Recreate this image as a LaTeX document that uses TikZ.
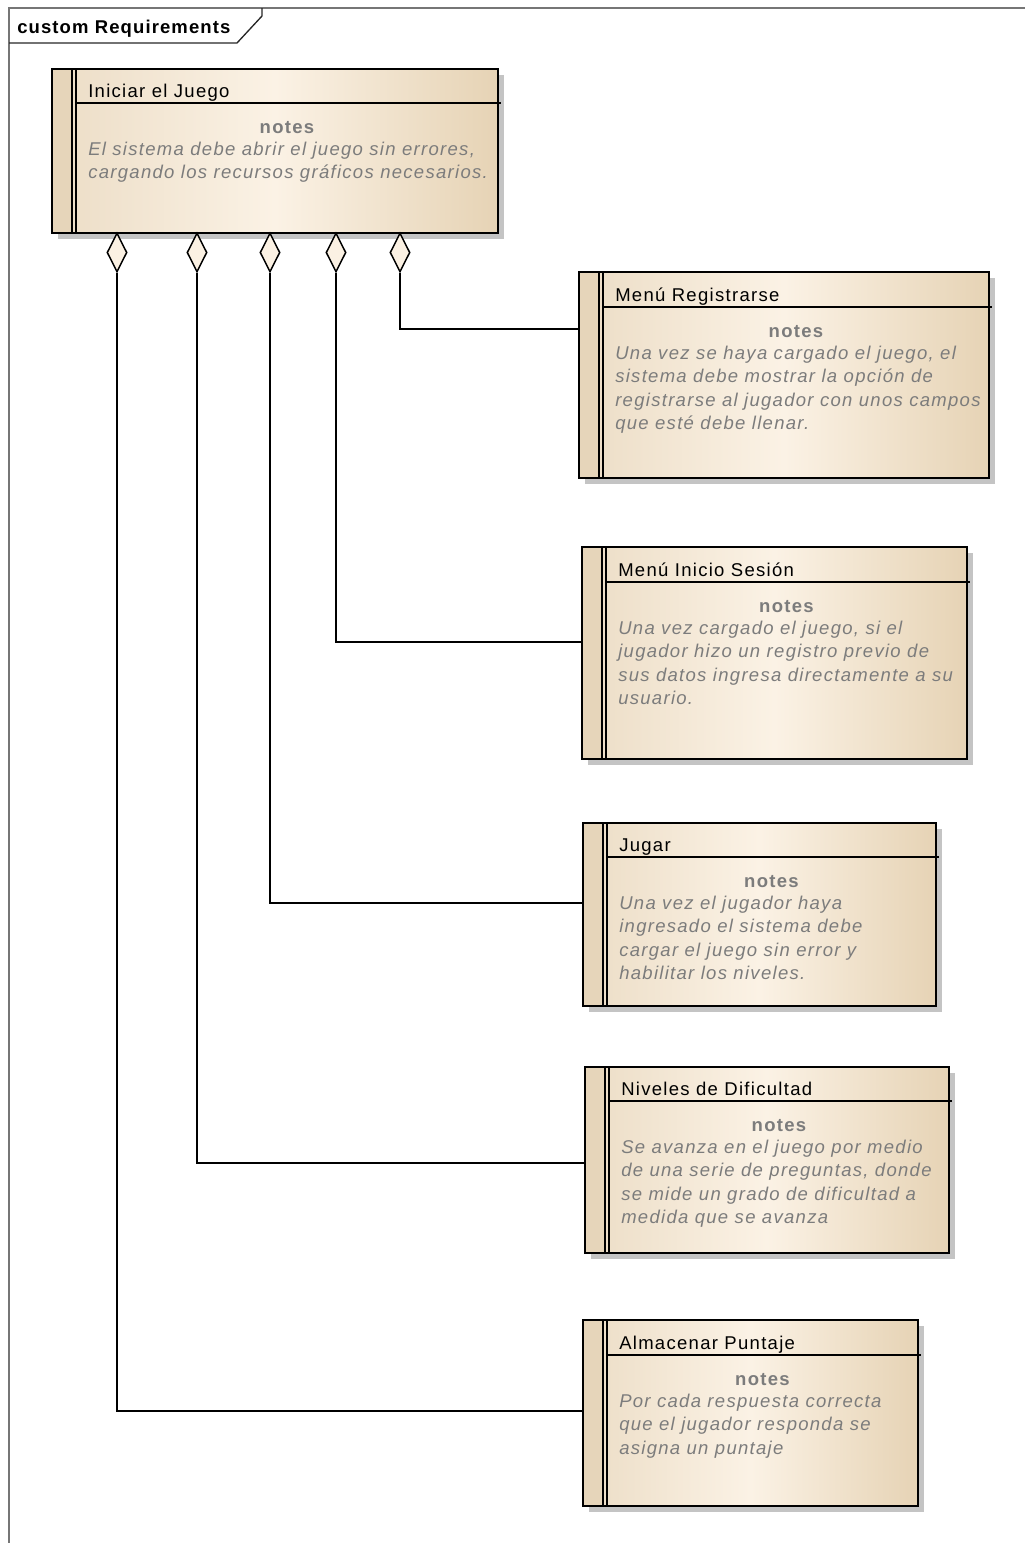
\documentclass[tikz,border=0pt]{standalone}
\usepackage{fontspec}
\setmainfont{Liberation Sans}
\newfontfamily\uifont[LetterSpace=7]{Liberation Sans}
\newfontfamily\tagfont[LetterSpace=6]{Liberation Sans}
\usetikzlibrary{calc,fit,shapes.geometric}

\definecolor{framegray}{HTML}{767676}
\definecolor{notegray}{HTML}{7C7C7C}
\definecolor{tanleft}{HTML}{ECDDC6}
\definecolor{tanright}{HTML}{E6D3B5}
\definecolor{cream}{HTML}{FBF2E5}
\definecolor{stripetan}{HTML}{E6D5BA}
\definecolor{shadowgray}{HTML}{C4C4C4}
\definecolor{diamondfill}{HTML}{FBF1E3}

\newcommand\titlefont{\uifont\fontsize{13.875pt}{17.625pt}\selectfont}
\newcommand\noteheadfont{\uifont\bfseries\fontsize{13.875pt}{17.625pt}\selectfont}
\newcommand\notefont{\uifont\itshape\fontsize{13.875pt}{17.625pt}\selectfont}
\newcommand\labelfont{\tagfont\bfseries\fontsize{13.875pt}{17.625pt}\selectfont}

\tikzset{
  boxframe/.style={draw=black, line width=1.5pt, inner sep=0pt},
  stripeline/.style={draw=black, line width=0.9pt},
  headline/.style={draw=black, line width=1.1pt},
  conn/.style={draw=black, line width=1.2pt},
  aggdiamond/.style={shape=diamond, draw=black, line width=1.1pt, fill=diamondfill,
    minimum width=15pt, minimum height=29.25pt, inner sep=0pt},
  titletext/.style={anchor=base west, inner sep=0pt, font=\titlefont, text=black},
  notehead/.style={anchor=base, inner sep=0pt, font=\noteheadfont, text=notegray},
  notetext/.style={anchor=base west, inner sep=0pt, font=\notefont, text=notegray},
}

% requirement element: name, x1, y1, x2, y2, header line y, title, note lines
\newcommand\reqbox[8]{%
  \fill[shadowgray] ({#2+6},{#3+6}) rectangle ({#4+6},{#5+6});
  \shade[left color=tanleft, right color=tanright, middle color=cream] (#2,#3) rectangle (#4,#5);
  \fill[stripetan] (#2,#3) rectangle ({#2+20},#5);
  \node[boxframe, fit={(#2,#3) (#4,#5)}] (#1) {};
  \draw[stripeline] ({#2+20},#3) -- ({#2+20},#5) ({#2+24},#3) -- ({#2+24},#5);
  \draw[headline] ({#2+24},#6) -- ({#4+3},#6);
  \node[titletext] (#1-title) at ({#2+36},{#6-5.5}) {#7};
  \node[notehead] (#1-head) at ({(#2+24+#4)/2},{#6+30}) {notes};
  \node[notetext] (#1-text) at ({#2+36},{#6+52}) {\begin{tabular}[t]{@{}l@{}}#8\end{tabular}};
}

\begin{document}
\begin{tikzpicture}[x=0.75pt, y=-0.75pt]
  \useasboundingbox (0,0) rectangle (1025,1543);

  % diagram frame and its name tag
  \draw[framegray, line width=1.5pt] (1025,8) -- (9,8) -- (9,1543);
  \draw[black!85, line width=1pt] (9,43) -- (237,43) -- (262,16) -- (262,8);
  \node[anchor=base west, inner sep=0pt, font=\labelfont] (frametitle) at (17,33) {custom Requirements};

  % requirements
  \reqbox{b1}{52}{69}{498}{233}{103}{Iniciar el Juego}
    {El sistema debe abrir el juego sin errores,\\cargando los recursos gráficos necesarios.}
  \reqbox{b2}{579}{272}{989}{478}{307}{Menú Registrarse}
    {Una vez se haya cargado el juego, el\\sistema debe mostrar la opción de\\registrarse al jugador con unos campos\\que esté debe llenar.}
  \reqbox{b3}{582}{547}{967}{759}{582}{Menú Inicio Sesión}
    {Una vez cargado el juego, si el\\jugador hizo un registro previo de\\sus datos ingresa directamente a su\\usuario.}
  \reqbox{b4}{583}{823}{936}{1006}{857}{Jugar}
    {Una vez el jugador haya\\ingresado el sistema debe\\cargar el juego sin error y\\habilitar los niveles.}
  \reqbox{b5}{585}{1067}{949}{1253}{1101}{Niveles de Dificultad}
    {Se avanza en el juego por medio\\de una serie de preguntas, donde\\se mide un grado de dificultad a\\medida que se avanza}
  \reqbox{b6}{583}{1320}{918}{1506}{1355}{Almacenar Puntaje}
    {Por cada respuesta correcta\\que el jugador responda se\\asigna un puntaje}

  % aggregation diamonds on the parent
  \node[aggdiamond] (d1) at (117,252.5) {};
  \node[aggdiamond] (d2) at (197,252.5) {};
  \node[aggdiamond] (d3) at (270,252.5) {};
  \node[aggdiamond] (d4) at (336,252.5) {};
  \node[aggdiamond] (d5) at (400,252.5) {};

  % connector heights
  \coordinate (y2) at (0,329);
  \coordinate (y3) at (0,642);
  \coordinate (y4) at (0,903);
  \coordinate (y5) at (0,1163);
  \coordinate (y6) at (0,1411);

  \draw[conn] (d5.south) |- (b2.west |- y2);
  \draw[conn] (d4.south) |- (b3.west |- y3);
  \draw[conn] (d3.south) |- (b4.west |- y4);
  \draw[conn] (d2.south) |- (b5.west |- y5);
  \draw[conn] (d1.south) |- (b6.west |- y6);
\end{tikzpicture}
\end{document}
